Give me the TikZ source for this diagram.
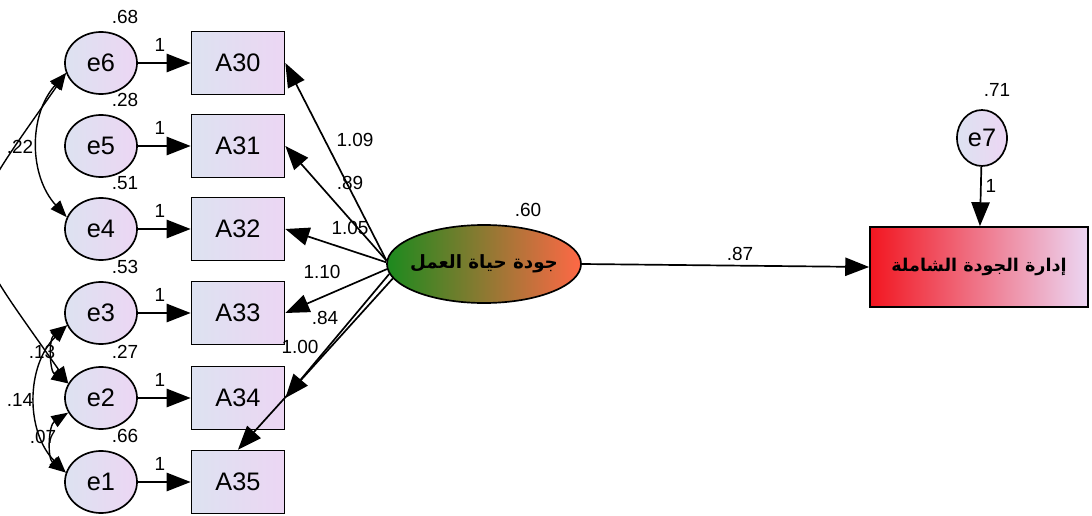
\documentclass[tikz,border=0pt]{standalone}
\usepackage{fontspec}
\setmainfont{Liberation Sans}
\newfontfamily\arabicfont[Script=Arabic]{DejaVu Sans}
\TeXXeTstate=1
\usetikzlibrary{arrows.meta,shapes.geometric}

\definecolor{lilacL}{RGB}{221,226,241}
\definecolor{lilacR}{RGB}{236,214,243}
\definecolor{qwlGreen}{RGB}{28,138,30}
\definecolor{qwlOrange}{RGB}{255,104,70}
\definecolor{tqmRed}{RGB}{242,22,32}
\definecolor{tqmPink}{RGB}{226,128,182}

\begin{document}
\begin{tikzpicture}[x=0.025cm,y=0.025cm,line width=1.2pt,>={Triangle[length=17pt,width=13pt]}]
\tikzset{err/.style={ellipse,draw,line width=1.2pt,left color=lilacL,right color=lilacR,
  minimum width=1.8cm,minimum height=1.55cm,inner sep=0pt,font=\fontsize{18}{20}\selectfont},
item/.style={rectangle,draw,line width=1.2pt,left color=lilacL,right color=lilacR,
  minimum width=2.325cm,minimum height=1.575cm,font=\fontsize{18}{20}\selectfont},
est/.style={font=\fontsize{13.5}{15}\selectfont,inner sep=1pt},
cov/.style={{Triangle[length=12pt,width=9pt]}-{Triangle[length=12pt,width=9pt]},line width=1pt}}
\useasboundingbox (0,0) rectangle (1092,515);
\clip (0,0) rectangle (1092,515);
% items A30..A35 with their errors
\foreach \i/\y/\v in {6/452/.68,5/369/.28,4/286/.51,3/202/.53,2/117/.27,1/33/.66}{
  \pgfmathtruncatemacro{\n}{36-\i}
  \node[err] (e\i) at (101,\y) {e\i};
  \node[item] (A\n) at (238,\y) {A\n};
  \draw[->] (e\i) -- (A\n);
  \node[est] (w\i) at (160,\y+18) {1};
  \node[est] (v\i) at (125,\y+46) {\v};
}
% error covariances
\draw[cov] (e6.196) to[out=235,in=125,looseness=1.65] (e2.156);
\draw[cov] (e6.196) to[bend right=42] (e4.161);
\draw[cov] (e3.200) to[bend right=45] (e1.165);
\draw[cov] (e3.200) to[bend right=55] (e2.156);
\draw[cov] (e2.204) to[bend right=55] (e1.165);
\node[est] (c64) at (20,368) {.22};
\node[est] (c32) at (42,163) {.13};
\node[est] (c31) at (20,115) {.14};
\node[est] (c21) at (43,78) {.07};
% latent factor and outcome
\node[ellipse,draw,line width=1.2pt,left color=qwlGreen,right color=qwlOrange,
  minimum width=4.85cm,minimum height=1.95cm,inner ysep=0pt,inner xsep=-5pt] (qwl) at (484,251)
  {\arabicfont\bfseries\fontsize{13}{15}\selectfont\beginR جودة حياة العمل\endR};
\node[rectangle,draw,line width=1.2pt,left color=tqmRed,middle color=tqmPink,right color=lilacR,
  minimum width=5.45cm,minimum height=2cm] (tqm) at (979,248)
  {\arabicfont\bfseries\fontsize{12.5}{15}\selectfont\beginR إدارة الجودة الشاملة\endR};
\node[err,minimum width=1.25cm,minimum height=1.4cm] (e7) at (982,377) {e7};
\node[est] (v7) at (997,425) {.71};
\node[est] (w7) at (991,329) {1};
\draw[->] (e7) -- (tqm);
\node[est] (r0) at (528,305) {.60};
\draw[->] (qwl.east) -- (tqm.west);
\node[est] (b0) at (740,261) {.87};
% loadings
\foreach \t/\s/\l/\x/\y in {A30.east/178/1.09/355/375,A31.east/178/.89/350/332,
  A32.east/179/1.05/350/287,A33.east/183/1.10/322/243,A34.east/186/.84/325/197,
  A35.north/189/1.00/300/168}{
  \draw[->] (qwl.\s) -- (\t);
  \node[est] at (\x,\y) {\l};
}
\end{tikzpicture}
\end{document}
